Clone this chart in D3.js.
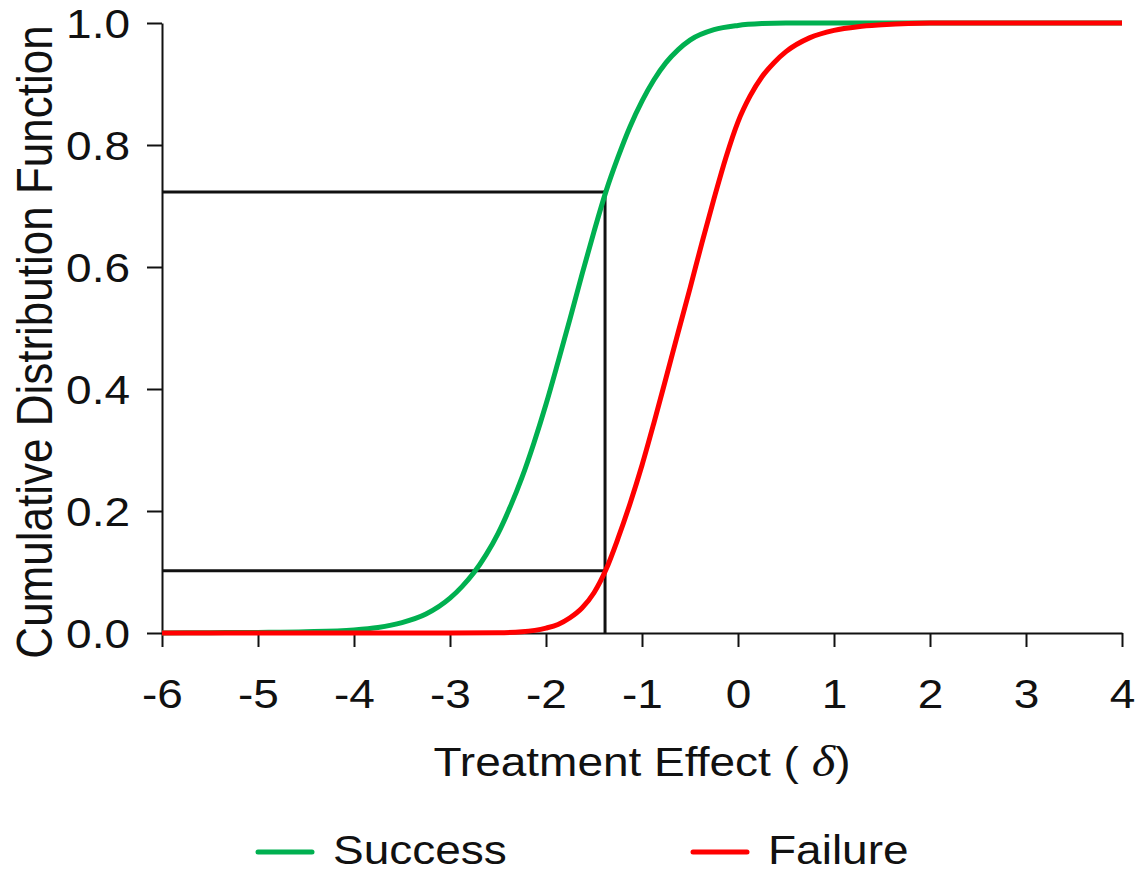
<!DOCTYPE html>
<html>
<head>
<meta charset="utf-8">
<script src="https://cdn.jsdelivr.net/npm/d3@7"></script>
<style>
  html, body { margin: 0; padding: 0; background: #fff; }
  text { font-family: "Liberation Sans", Arial, sans-serif; fill: #111; }
</style>
</head>
<body>
<svg id="chart" width="1138" height="872"></svg>
<script>
// ---- data ----
const successX = [-6, -5.5, -5, -4.5, -4, -3.75, -3.5, -3.25, -3, -2.875, -2.75, -2.625, -2.5, -2.375, -2.25, -2.125, -2, -1.875, -1.75, -1.625, -1.5, -1.375, -1.25, -1.125, -1, -0.875, -0.75, -0.625, -0.5, -0.25, 0, 0.25, 0.5, 1, 2, 3, 4];
const successY = [0, 0.0005, 0.001, 0.002, 0.005, 0.009, 0.017, 0.031, 0.057, 0.076, 0.099, 0.128, 0.163, 0.206, 0.255, 0.312, 0.375, 0.444, 0.515, 0.588, 0.658, 0.724, 0.780, 0.830, 0.872, 0.907, 0.935, 0.956, 0.972, 0.989, 0.996, 0.999, 1, 1, 1, 1, 1];
const failureX = [-6, -5, -4, -3, -2.5, -2.25, -2, -1.875, -1.75, -1.625, -1.5, -1.375, -1.25, -1.125, -1, -0.875, -0.75, -0.625, -0.5, -0.375, -0.25, -0.125, 0, 0.125, 0.25, 0.375, 0.5, 0.75, 1, 1.25, 1.5, 2, 3, 4];
const failureY = [0, 0, 0, 0, 0.0005, 0.002, 0.008, 0.014, 0.025, 0.041, 0.066, 0.104, 0.155, 0.212, 0.275, 0.345, 0.418, 0.492, 0.565, 0.640, 0.712, 0.780, 0.838, 0.880, 0.912, 0.935, 0.953, 0.976, 0.988, 0.994, 0.997, 1, 1, 1];
const refX = -1.385;
const refLevels = [0.723, 0.102];
const xTicks = [-6, -5, -4, -3, -2, -1, 0, 1, 2, 3, 4];
const yTicks = [0, 0.2, 0.4, 0.6, 0.8, 1.0];
const seriesNames = ["Success", "Failure"];
const seriesColors = ["#00b050", "#ff0000"];

(function () {
const svg = d3.select("#chart");
const mL = 162, mR = 1122, mT = 23, mB = 633;
const x = d3.scaleLinear().domain([-6, 4]).range([mL, mR]);
const y = d3.scaleLinear().domain([0, 1]).range([mB, mT]);
const SX = 1.15; // horizontal text stretch seen in the reference

// axes
const xAxis = svg.append("g").attr("transform", `translate(0,${mB})`)
  .call(d3.axisBottom(x).tickValues(xTicks).tickSize(14).tickSizeOuter(0).tickFormat(d => String(d)));
const yAxis = svg.append("g").attr("transform", `translate(${mL},0)`)
  .call(d3.axisLeft(y).tickValues(yTicks).tickSize(15).tickSizeOuter(0).tickFormat(d => d.toFixed(1)));
[xAxis, yAxis].forEach(g => {
  g.select(".domain").attr("stroke", "#111").attr("stroke-width", 2);
  g.selectAll(".tick line").attr("stroke", "#111").attr("stroke-width", 2);
  g.selectAll(".tick text").attr("font-size", 40).attr("fill", "#111")
    .style("font-family", '"Liberation Sans", Arial, sans-serif');
});
xAxis.selectAll(".tick text").attr("y", 0).attr("dy", 0)
  .attr("transform", `translate(0,75) scale(${SX},1)`);
yAxis.selectAll(".tick text").attr("x", 0).attr("dy", "0.36em")
  .attr("transform", `translate(-32,0) scale(${SX},1)`);

// reference lines
const ref = svg.append("g").attr("stroke", "#111").attr("stroke-width", 3).attr("fill", "none");
refLevels.forEach(v => {
  ref.append("line").attr("x1", x(-6)).attr("x2", x(refX)).attr("y1", y(v)).attr("y2", y(v));
});
ref.append("line").attr("x1", x(refX)).attr("x2", x(refX)).attr("y1", y(d3.max(refLevels)) - 1.5).attr("y2", y(0));

// curves
const line = d3.line().x(d => x(d[0])).y(d => y(d[1])).curve(d3.curveMonotoneX);
const series = [d3.zip(successX, successY), d3.zip(failureX, failureY)];
series.forEach((s, i) => {
  svg.append("path").datum(s).attr("d", line).attr("fill", "none")
    .attr("stroke", seriesColors[i]).attr("stroke-width", 5).attr("stroke-linejoin", "round");
});

// axis titles
svg.append("text").attr("text-anchor", "middle").attr("font-size", 40)
  .attr("transform", `translate(${(mL + mR) / 2},776) scale(${SX},1)`)
  .html('Treatment Effect ( <tspan font-family="Liberation Serif" font-style="italic" font-size="44">δ</tspan>)');
svg.append("text").attr("text-anchor", "middle").attr("font-size", 44)
  .attr("transform", `translate(52,342) rotate(-90) scale(1,${SX})`)
  .text("Cumulative Distribution Function");

// legend
const legendX = [258, 693];
seriesNames.forEach((n, i) => {
  svg.append("line").attr("x1", legendX[i]).attr("x2", legendX[i] + 54).attr("y1", 852).attr("y2", 852)
    .attr("stroke", seriesColors[i]).attr("stroke-width", 5).attr("stroke-linecap", "round");
  svg.append("text").attr("font-size", 40)
    .attr("transform", `translate(${legendX[i] + 75},864) scale(${SX},1)`).text(n);
});
})();
</script>
</body>
</html>
